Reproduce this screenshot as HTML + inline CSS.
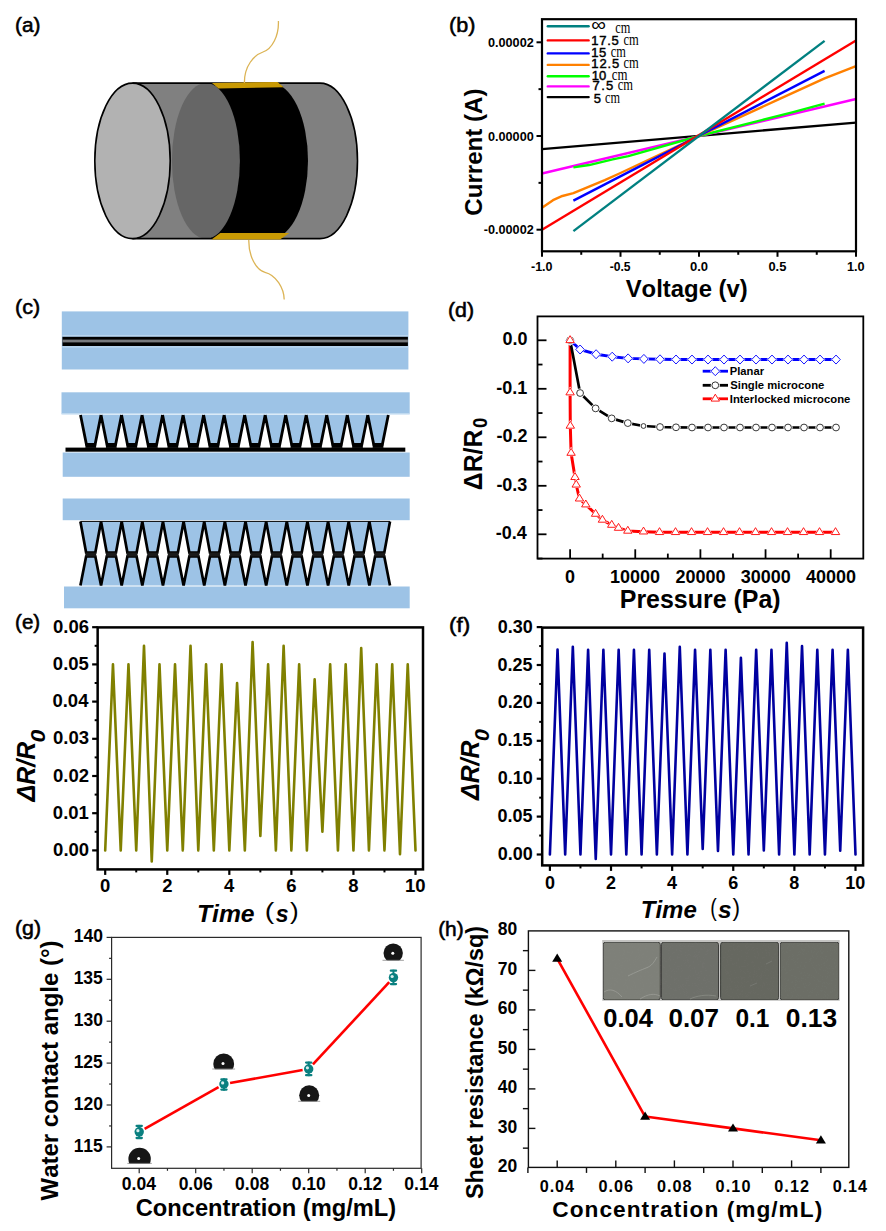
<!DOCTYPE html>
<html><head><meta charset="utf-8"><title>Figure</title>
<style>html,body{margin:0;padding:0;background:#fff;overflow:hidden;} svg{display:block;} text{font-kerning:none;}</style></head>
<body><svg width="886" height="1231" viewBox="0 0 886 1231">
<rect width="886" height="1231" fill="#fff"/>
<text x="15.06" y="32.11" font-family="Liberation Sans, sans-serif" font-weight="normal" font-style="normal" font-size="20.17" fill="#000" textLength="25.49" lengthAdjust="spacingAndGlyphs" stroke="#000" stroke-width="0.55">(a)</text>
<path d="M132.5,83.1 L320,83.1 A37.5,77.75 0 0 1 320,238.6 L132.5,238.6 Z" fill="#808080"/>
<path d="M211,83.1 L271,83.1 A37,77.75 0 0 1 271,238.6 L211,238.6 Z" fill="#000"/>
<ellipse cx="205.9" cy="160.85" rx="34" ry="77.75" fill="#666666"/>
<path d="M132.5,83.1 L320,83.1 A37.5,77.75 0 0 1 320,238.6 L132.5,238.6" fill="none" stroke="#000" stroke-width="1.6"/>
<ellipse cx="132.5" cy="160.85" rx="37.7" ry="77.75" fill="#b2b2b2" stroke="#000" stroke-width="1.6"/>
<polygon points="212,83.0 277.5,82.0 283.6,87.2 218.5,88.6" fill="#c99a04"/>
<polygon points="220.3,233.0 289.4,233.0 280,239.6 211.5,239.6" fill="#c99a04"/>
<path d="M278.4,21 C279,36 272,49 263,52 C254,55 244.2,66 244.4,83" fill="none" stroke="#dcb456" stroke-width="1.3"/>
<path d="M248.8,240 C248.5,256 256,270 265,272.3 C276,275 284,288 284.2,299.5" fill="none" stroke="#dcb456" stroke-width="1.3"/>
<text x="449.11" y="32.28" font-family="Liberation Sans, sans-serif" font-weight="normal" font-style="normal" font-size="20.82" fill="#000" textLength="26.38" lengthAdjust="spacingAndGlyphs" stroke="#000" stroke-width="0.55">(b)</text>
<line x1="542.00" y1="149.12" x2="856.00" y2="122.60" stroke="#000000" stroke-width="2.4" />
<line x1="542.00" y1="173.48" x2="856.00" y2="98.99" stroke="#ff00ff" stroke-width="2.4" />
<polyline points="573.40,167.39 589.10,165.05 612.65,159.43 628.35,156.15 699.00,136.00 761.80,120.07 793.20,112.11 824.60,103.67" fill="none" stroke="#00ff00" stroke-width="2.4" stroke-linejoin="round" />
<polyline points="542.00,207.68 552.99,200.18 562.41,195.97 573.40,193.16 589.10,186.60 604.80,180.04 620.50,173.01 699.00,136.00 777.50,99.93 824.60,78.37 856.00,66.19" fill="none" stroke="#ff8000" stroke-width="2.4" stroke-linejoin="round" />
<line x1="573.40" y1="200.65" x2="824.60" y2="70.88" stroke="#0000ff" stroke-width="2.4" />
<line x1="542.00" y1="229.70" x2="856.00" y2="40.43" stroke="#ff0000" stroke-width="2.4" />
<line x1="573.40" y1="231.11" x2="824.60" y2="40.89" stroke="#008080" stroke-width="2.4" />
<rect x="542.0" y="19.2" width="314.0" height="232.10000000000002" fill="none" stroke="#000" stroke-width="2.2"/>
<line x1="542.00" y1="251.30" x2="542.00" y2="256.80" stroke="#000" stroke-width="2" />
<text x="530.96" y="271.30" font-family="Liberation Sans, sans-serif" font-weight="bold" font-style="normal" font-size="12.5" fill="#000" textLength="21.60" lengthAdjust="spacingAndGlyphs" >-1.0</text>
<line x1="620.50" y1="251.30" x2="620.50" y2="256.80" stroke="#000" stroke-width="2" />
<text x="609.68" y="271.30" font-family="Liberation Sans, sans-serif" font-weight="bold" font-style="normal" font-size="12.5" fill="#000" textLength="20.91" lengthAdjust="spacingAndGlyphs" >-0.5</text>
<line x1="699.00" y1="251.30" x2="699.00" y2="256.80" stroke="#000" stroke-width="2" />
<text x="689.93" y="271.30" font-family="Liberation Sans, sans-serif" font-weight="bold" font-style="normal" font-size="12.5" fill="#000" textLength="18.15" lengthAdjust="spacingAndGlyphs" >0.0</text>
<line x1="777.50" y1="251.30" x2="777.50" y2="256.80" stroke="#000" stroke-width="2" />
<text x="768.44" y="271.30" font-family="Liberation Sans, sans-serif" font-weight="bold" font-style="normal" font-size="12.5" fill="#000" textLength="17.97" lengthAdjust="spacingAndGlyphs" >0.5</text>
<line x1="856.00" y1="251.30" x2="856.00" y2="256.80" stroke="#000" stroke-width="2" />
<text x="846.95" y="271.30" font-family="Liberation Sans, sans-serif" font-weight="bold" font-style="normal" font-size="12.5" fill="#000" textLength="17.73" lengthAdjust="spacingAndGlyphs" >1.0</text>
<line x1="581.25" y1="251.30" x2="581.25" y2="254.80" stroke="#000" stroke-width="2" />
<line x1="659.75" y1="251.30" x2="659.75" y2="254.80" stroke="#000" stroke-width="2" />
<line x1="738.25" y1="251.30" x2="738.25" y2="254.80" stroke="#000" stroke-width="2" />
<line x1="816.75" y1="251.30" x2="816.75" y2="254.80" stroke="#000" stroke-width="2" />
<line x1="536.50" y1="42.30" x2="542.00" y2="42.30" stroke="#000" stroke-width="2" />
<text x="487.95" y="46.90" font-family="Liberation Sans, sans-serif" font-weight="bold" font-style="normal" font-size="13" fill="#000" textLength="45.81" lengthAdjust="spacingAndGlyphs" >0.00002</text>
<line x1="536.50" y1="136.00" x2="542.00" y2="136.00" stroke="#000" stroke-width="2" />
<text x="487.95" y="140.60" font-family="Liberation Sans, sans-serif" font-weight="bold" font-style="normal" font-size="13" fill="#000" textLength="45.82" lengthAdjust="spacingAndGlyphs" >0.00000</text>
<line x1="536.50" y1="229.70" x2="542.00" y2="229.70" stroke="#000" stroke-width="2" />
<text x="483.76" y="234.30" font-family="Liberation Sans, sans-serif" font-weight="bold" font-style="normal" font-size="13" fill="#000" textLength="50.00" lengthAdjust="spacingAndGlyphs" >-0.00002</text>
<line x1="538.50" y1="89.15" x2="542.00" y2="89.15" stroke="#000" stroke-width="2" />
<line x1="538.50" y1="182.85" x2="542.00" y2="182.85" stroke="#000" stroke-width="2" />
<text x="625.69" y="296.70" font-family="Liberation Sans, sans-serif" font-weight="bold" font-style="normal" font-size="23.8" fill="#000" textLength="122.05" lengthAdjust="spacingAndGlyphs" >Voltage (v)</text>
<text transform="translate(482.30,215.64) rotate(-90)" x="0" y="0" font-family="Liberation Sans, sans-serif" font-weight="bold" font-style="normal" font-size="24" fill="#000" textLength="127.09" lengthAdjust="spacingAndGlyphs" >Current (A)</text>
<line x1="547.80" y1="26.30" x2="588.60" y2="26.30" stroke="#008080" stroke-width="2.4" stroke-linecap="round"/>
<line x1="547.80" y1="40.40" x2="588.60" y2="40.40" stroke="#ff0000" stroke-width="2.4" stroke-linecap="round"/>
<line x1="547.80" y1="53.40" x2="588.60" y2="53.40" stroke="#0000ff" stroke-width="2.4" stroke-linecap="round"/>
<line x1="547.80" y1="64.90" x2="588.60" y2="64.90" stroke="#ff8000" stroke-width="2.4" stroke-linecap="round"/>
<line x1="547.80" y1="76.30" x2="588.60" y2="76.30" stroke="#00ff00" stroke-width="2.4" stroke-linecap="round"/>
<line x1="547.80" y1="86.40" x2="588.60" y2="86.40" stroke="#ff00ff" stroke-width="2.4" stroke-linecap="round"/>
<line x1="547.80" y1="97.10" x2="588.60" y2="97.10" stroke="#000000" stroke-width="2.4" stroke-linecap="round"/>
<text x="591.38" y="31.00" font-family="Liberation Sans, sans-serif" font-weight="normal" font-style="normal" font-size="19" fill="#000" textLength="14.65" lengthAdjust="spacingAndGlyphs" >∞</text>
<text x="591.26" y="45.20" font-family="Liberation Sans, sans-serif" font-weight="normal" font-style="normal" font-size="13" fill="#000" letter-spacing="0.711" stroke="#000" stroke-width="0.45">17.5</text>
<text x="591.26" y="57.00" font-family="Liberation Sans, sans-serif" font-weight="normal" font-style="normal" font-size="13" fill="#000" letter-spacing="0.576" stroke="#000" stroke-width="0.45">15</text>
<text x="591.26" y="68.30" font-family="Liberation Sans, sans-serif" font-weight="normal" font-style="normal" font-size="13" fill="#000" letter-spacing="0.911" stroke="#000" stroke-width="0.45">12.5</text>
<text x="591.76" y="79.60" font-family="Liberation Sans, sans-serif" font-weight="normal" font-style="normal" font-size="13" fill="#000" letter-spacing="0.038" stroke="#000" stroke-width="0.45">10</text>
<text x="592.58" y="90.40" font-family="Liberation Sans, sans-serif" font-weight="normal" font-style="normal" font-size="13" fill="#000" letter-spacing="1.320" stroke="#000" stroke-width="0.45">7.5</text>
<text x="593.73" y="102.50" font-family="Liberation Sans, sans-serif" font-weight="normal" font-style="normal" font-size="13" fill="#000" letter-spacing="-0.264" stroke="#000" stroke-width="0.45">5</text>
<text x="615.18" y="33.00" font-family="Liberation Serif, sans-serif" font-weight="normal" font-style="normal" font-size="16.5" fill="#000" textLength="15.06" lengthAdjust="spacingAndGlyphs" >cm</text>
<text x="623.47" y="45.20" font-family="Liberation Serif, sans-serif" font-weight="normal" font-style="normal" font-size="16.5" fill="#000" textLength="15.27" lengthAdjust="spacingAndGlyphs" >cm</text>
<text x="610.68" y="57.00" font-family="Liberation Serif, sans-serif" font-weight="normal" font-style="normal" font-size="16.5" fill="#000" textLength="15.06" lengthAdjust="spacingAndGlyphs" >cm</text>
<text x="623.47" y="68.30" font-family="Liberation Serif, sans-serif" font-weight="normal" font-style="normal" font-size="16.5" fill="#000" textLength="15.27" lengthAdjust="spacingAndGlyphs" >cm</text>
<text x="611.76" y="79.60" font-family="Liberation Serif, sans-serif" font-weight="normal" font-style="normal" font-size="16.5" fill="#000" textLength="15.69" lengthAdjust="spacingAndGlyphs" >cm</text>
<text x="617.67" y="90.40" font-family="Liberation Serif, sans-serif" font-weight="normal" font-style="normal" font-size="16.5" fill="#000" textLength="15.27" lengthAdjust="spacingAndGlyphs" >cm</text>
<text x="604.98" y="102.50" font-family="Liberation Serif, sans-serif" font-weight="normal" font-style="normal" font-size="16.5" fill="#000" textLength="14.96" lengthAdjust="spacingAndGlyphs" >cm</text>
<text x="15.01" y="313.95" font-family="Liberation Sans, sans-serif" font-weight="normal" font-style="normal" font-size="20.49" fill="#000" textLength="25.18" lengthAdjust="spacingAndGlyphs" stroke="#000" stroke-width="0.55">(c)</text>
<rect x="61.8" y="311.4" width="346.6" height="58.1" fill="#9dc3e6"/>
<rect x="62.4" y="336.7" width="345.5" height="9.3" fill="#000"/>
<rect x="62.4" y="339.6" width="345.5" height="2.8" fill="#77797d"/>
<rect x="62.4" y="335.3" width="345.5" height="1.1" fill="#c4dcf2"/>
<rect x="62.4" y="346.4" width="345.5" height="1.1" fill="#c4dcf2"/>
<rect x="61.5" y="392.3" width="348.2" height="21.5" fill="#9dc3e6"/>
<rect x="61.5" y="413.2" width="348.2" height="1.4" fill="#c4dcf2"/>
<path d="M80.50,415.0 L86.40,444.3 L95.12,444.3 L101.02,415.0 Z M101.02,415.0 L106.92,444.3 L115.64,444.3 L121.54,415.0 Z M121.54,415.0 L127.44,444.3 L136.16,444.3 L142.06,415.0 Z M142.06,415.0 L147.96,444.3 L156.68,444.3 L162.58,415.0 Z M162.58,415.0 L168.48,444.3 L177.20,444.3 L183.10,415.0 Z M183.10,415.0 L189.00,444.3 L197.72,444.3 L203.62,415.0 Z M203.62,415.0 L209.52,444.3 L218.24,444.3 L224.14,415.0 Z M224.14,415.0 L230.04,444.3 L238.76,444.3 L244.66,415.0 Z M244.66,415.0 L250.56,444.3 L259.28,444.3 L265.18,415.0 Z M265.18,415.0 L271.08,444.3 L279.80,444.3 L285.70,415.0 Z M285.70,415.0 L291.60,444.3 L300.32,444.3 L306.22,415.0 Z M306.22,415.0 L312.12,444.3 L320.84,444.3 L326.74,415.0 Z M326.74,415.0 L332.64,444.3 L341.36,444.3 L347.26,415.0 Z M347.26,415.0 L353.16,444.3 L361.88,444.3 L367.78,415.0 Z M367.78,415.0 L373.68,444.3 L382.40,444.3 L388.30,415.0 Z" fill="#9dc3e6"/>
<path d="M80.50,415.0 L86.40,444.3 L95.12,444.3 L101.02,415.0 M101.02,415.0 L106.92,444.3 L115.64,444.3 L121.54,415.0 M121.54,415.0 L127.44,444.3 L136.16,444.3 L142.06,415.0 M142.06,415.0 L147.96,444.3 L156.68,444.3 L162.58,415.0 M162.58,415.0 L168.48,444.3 L177.20,444.3 L183.10,415.0 M183.10,415.0 L189.00,444.3 L197.72,444.3 L203.62,415.0 M203.62,415.0 L209.52,444.3 L218.24,444.3 L224.14,415.0 M224.14,415.0 L230.04,444.3 L238.76,444.3 L244.66,415.0 M244.66,415.0 L250.56,444.3 L259.28,444.3 L265.18,415.0 M265.18,415.0 L271.08,444.3 L279.80,444.3 L285.70,415.0 M285.70,415.0 L291.60,444.3 L300.32,444.3 L306.22,415.0 M306.22,415.0 L312.12,444.3 L320.84,444.3 L326.74,415.0 M326.74,415.0 L332.64,444.3 L341.36,444.3 L347.26,415.0 M347.26,415.0 L353.16,444.3 L361.88,444.3 L367.78,415.0 M367.78,415.0 L373.68,444.3 L382.40,444.3 L388.30,415.0" fill="none" stroke="#000" stroke-width="2.8" stroke-linejoin="miter" stroke-miterlimit="10"/>
<rect x="85.40" y="444.3" width="10.72" height="3.6" fill="#000"/>
<rect x="105.92" y="444.3" width="10.72" height="3.6" fill="#000"/>
<rect x="126.44" y="444.3" width="10.72" height="3.6" fill="#000"/>
<rect x="146.96" y="444.3" width="10.72" height="3.6" fill="#000"/>
<rect x="167.48" y="444.3" width="10.72" height="3.6" fill="#000"/>
<rect x="188.00" y="444.3" width="10.72" height="3.6" fill="#000"/>
<rect x="208.52" y="444.3" width="10.72" height="3.6" fill="#000"/>
<rect x="229.04" y="444.3" width="10.72" height="3.6" fill="#000"/>
<rect x="249.56" y="444.3" width="10.72" height="3.6" fill="#000"/>
<rect x="270.08" y="444.3" width="10.72" height="3.6" fill="#000"/>
<rect x="290.60" y="444.3" width="10.72" height="3.6" fill="#000"/>
<rect x="311.12" y="444.3" width="10.72" height="3.6" fill="#000"/>
<rect x="331.64" y="444.3" width="10.72" height="3.6" fill="#000"/>
<rect x="352.16" y="444.3" width="10.72" height="3.6" fill="#000"/>
<rect x="372.68" y="444.3" width="10.72" height="3.6" fill="#000"/>
<rect x="65.5" y="447.6" width="339.8" height="4.1" fill="#000"/>
<rect x="62.7" y="452.5" width="347" height="24.3" fill="#9dc3e6"/>
<rect x="62.7" y="498.5" width="347" height="21.7" fill="#9dc3e6"/>
<path d="M80.40,521.6 L86.10,552.5 L95.34,552.5 L101.04,521.6 Z M101.04,521.6 L106.74,552.5 L115.98,552.5 L121.68,521.6 Z M121.68,521.6 L127.38,552.5 L136.62,552.5 L142.32,521.6 Z M142.32,521.6 L148.02,552.5 L157.26,552.5 L162.96,521.6 Z M162.96,521.6 L168.66,552.5 L177.90,552.5 L183.60,521.6 Z M183.60,521.6 L189.30,552.5 L198.54,552.5 L204.24,521.6 Z M204.24,521.6 L209.94,552.5 L219.18,552.5 L224.88,521.6 Z M224.88,521.6 L230.58,552.5 L239.82,552.5 L245.52,521.6 Z M245.52,521.6 L251.22,552.5 L260.46,552.5 L266.16,521.6 Z M266.16,521.6 L271.86,552.5 L281.10,552.5 L286.80,521.6 Z M286.80,521.6 L292.50,552.5 L301.74,552.5 L307.44,521.6 Z M307.44,521.6 L313.14,552.5 L322.38,552.5 L328.08,521.6 Z M328.08,521.6 L333.78,552.5 L343.02,552.5 L348.72,521.6 Z M348.72,521.6 L354.42,552.5 L363.66,552.5 L369.36,521.6 Z M369.36,521.6 L375.06,552.5 L384.30,552.5 L390.00,521.6 Z" fill="#9dc3e6"/>
<path d="M80.40,521.6 L86.10,552.5 L95.34,552.5 L101.04,521.6 M101.04,521.6 L106.74,552.5 L115.98,552.5 L121.68,521.6 M121.68,521.6 L127.38,552.5 L136.62,552.5 L142.32,521.6 M142.32,521.6 L148.02,552.5 L157.26,552.5 L162.96,521.6 M162.96,521.6 L168.66,552.5 L177.90,552.5 L183.60,521.6 M183.60,521.6 L189.30,552.5 L198.54,552.5 L204.24,521.6 M204.24,521.6 L209.94,552.5 L219.18,552.5 L224.88,521.6 M224.88,521.6 L230.58,552.5 L239.82,552.5 L245.52,521.6 M245.52,521.6 L251.22,552.5 L260.46,552.5 L266.16,521.6 M266.16,521.6 L271.86,552.5 L281.10,552.5 L286.80,521.6 M286.80,521.6 L292.50,552.5 L301.74,552.5 L307.44,521.6 M307.44,521.6 L313.14,552.5 L322.38,552.5 L328.08,521.6 M328.08,521.6 L333.78,552.5 L343.02,552.5 L348.72,521.6 M348.72,521.6 L354.42,552.5 L363.66,552.5 L369.36,521.6 M369.36,521.6 L375.06,552.5 L384.30,552.5 L390.00,521.6" fill="none" stroke="#000" stroke-width="2.7" stroke-linejoin="miter" stroke-miterlimit="10"/>
<path d="M80.40,585.6 L86.10,556.5 L95.34,556.5 L101.04,585.6 Z M101.04,585.6 L106.74,556.5 L115.98,556.5 L121.68,585.6 Z M121.68,585.6 L127.38,556.5 L136.62,556.5 L142.32,585.6 Z M142.32,585.6 L148.02,556.5 L157.26,556.5 L162.96,585.6 Z M162.96,585.6 L168.66,556.5 L177.90,556.5 L183.60,585.6 Z M183.60,585.6 L189.30,556.5 L198.54,556.5 L204.24,585.6 Z M204.24,585.6 L209.94,556.5 L219.18,556.5 L224.88,585.6 Z M224.88,585.6 L230.58,556.5 L239.82,556.5 L245.52,585.6 Z M245.52,585.6 L251.22,556.5 L260.46,556.5 L266.16,585.6 Z M266.16,585.6 L271.86,556.5 L281.10,556.5 L286.80,585.6 Z M286.80,585.6 L292.50,556.5 L301.74,556.5 L307.44,585.6 Z M307.44,585.6 L313.14,556.5 L322.38,556.5 L328.08,585.6 Z M328.08,585.6 L333.78,556.5 L343.02,556.5 L348.72,585.6 Z M348.72,585.6 L354.42,556.5 L363.66,556.5 L369.36,585.6 Z M369.36,585.6 L375.06,556.5 L384.30,556.5 L390.00,585.6 Z" fill="#9dc3e6"/>
<path d="M80.40,585.6 L86.10,556.5 L95.34,556.5 L101.04,585.6 M101.04,585.6 L106.74,556.5 L115.98,556.5 L121.68,585.6 M121.68,585.6 L127.38,556.5 L136.62,556.5 L142.32,585.6 M142.32,585.6 L148.02,556.5 L157.26,556.5 L162.96,585.6 M162.96,585.6 L168.66,556.5 L177.90,556.5 L183.60,585.6 M183.60,585.6 L189.30,556.5 L198.54,556.5 L204.24,585.6 M204.24,585.6 L209.94,556.5 L219.18,556.5 L224.88,585.6 M224.88,585.6 L230.58,556.5 L239.82,556.5 L245.52,585.6 M245.52,585.6 L251.22,556.5 L260.46,556.5 L266.16,585.6 M266.16,585.6 L271.86,556.5 L281.10,556.5 L286.80,585.6 M286.80,585.6 L292.50,556.5 L301.74,556.5 L307.44,585.6 M307.44,585.6 L313.14,556.5 L322.38,556.5 L328.08,585.6 M328.08,585.6 L333.78,556.5 L343.02,556.5 L348.72,585.6 M348.72,585.6 L354.42,556.5 L363.66,556.5 L369.36,585.6 M369.36,585.6 L375.06,556.5 L384.30,556.5 L390.00,585.6" fill="none" stroke="#000" stroke-width="2.7" stroke-linejoin="miter" stroke-miterlimit="10"/>
<rect x="85.30" y="552.5" width="10.84" height="4.0" fill="#1a1a1a"/>
<rect x="105.94" y="552.5" width="10.84" height="4.0" fill="#1a1a1a"/>
<rect x="126.58" y="552.5" width="10.84" height="4.0" fill="#1a1a1a"/>
<rect x="147.22" y="552.5" width="10.84" height="4.0" fill="#1a1a1a"/>
<rect x="167.86" y="552.5" width="10.84" height="4.0" fill="#1a1a1a"/>
<rect x="188.50" y="552.5" width="10.84" height="4.0" fill="#1a1a1a"/>
<rect x="209.14" y="552.5" width="10.84" height="4.0" fill="#1a1a1a"/>
<rect x="229.78" y="552.5" width="10.84" height="4.0" fill="#1a1a1a"/>
<rect x="250.42" y="552.5" width="10.84" height="4.0" fill="#1a1a1a"/>
<rect x="271.06" y="552.5" width="10.84" height="4.0" fill="#1a1a1a"/>
<rect x="291.70" y="552.5" width="10.84" height="4.0" fill="#1a1a1a"/>
<rect x="312.34" y="552.5" width="10.84" height="4.0" fill="#1a1a1a"/>
<rect x="332.98" y="552.5" width="10.84" height="4.0" fill="#1a1a1a"/>
<rect x="353.62" y="552.5" width="10.84" height="4.0" fill="#1a1a1a"/>
<rect x="374.26" y="552.5" width="10.84" height="4.0" fill="#1a1a1a"/>
<line x1="80.40" y1="521.40" x2="390.00" y2="521.40" stroke="#000" stroke-width="1.0" />
<rect x="64" y="586.5" width="345.7" height="21.8" fill="#9dc3e6"/>
<text x="448.03" y="317.41" font-family="Liberation Sans, sans-serif" font-weight="normal" font-style="normal" font-size="20.17" fill="#000" textLength="26.04" lengthAdjust="spacingAndGlyphs" stroke="#000" stroke-width="0.55">(d)</text>
<polyline points="570.10,340.30 570.10,392.58 570.30,425.90 571.08,453.01 574.99,477.22 576.22,484.78 579.48,498.70 585.80,504.62 595.57,513.98 602.41,519.90 611.73,524.99 618.51,528.00 627.82,530.90 643.52,531.68 659.52,532.26 675.53,532.26 691.53,532.26 707.53,532.26 723.53,532.26 739.53,532.26 755.53,532.26 771.53,532.26 787.53,532.26 803.53,532.26 819.53,532.26 835.53,532.26" fill="none" stroke="#ff0000" stroke-width="3.0" stroke-linejoin="round" />
<polyline points="570.10,340.30 580.10,393.02 595.60,408.39 611.70,418.38 627.80,423.09 643.50,426.00 660.01,427.02 676.00,427.31 692.00,427.50 708.00,427.50 724.00,427.50 740.00,427.50 756.01,427.50 772.01,427.50 788.01,427.50 804.01,427.50 820.01,427.50 836.01,427.50" fill="none" stroke="#000" stroke-width="2.7" stroke-linejoin="round" />
<polyline points="570.10,340.30 580.10,349.51 596.10,354.22 612.20,356.69 628.10,358.39 643.90,358.92 660.00,359.31 676.00,359.51 692.00,359.55 708.00,359.55 724.00,359.55 740.00,359.55 756.01,359.55 772.01,359.55 788.01,359.55 804.01,359.55 820.01,359.55 836.01,359.55" fill="none" stroke="#0000ff" stroke-width="2.9" stroke-linejoin="round" />
<path d="M570.10,334.70 L575.50,340.30 L570.10,345.90 L564.70,340.30 Z" fill="#fff"/>
<path d="M570.10,335.80 L574.40,340.30 L570.10,344.80 L565.80,340.30 Z" fill="#fff" stroke="#0000ff" stroke-width="0.9"/>
<path d="M580.10,343.91 L585.50,349.51 L580.10,355.12 L574.70,349.51 Z" fill="#fff"/>
<path d="M580.10,345.01 L584.40,349.51 L580.10,354.01 L575.80,349.51 Z" fill="#fff" stroke="#0000ff" stroke-width="0.9"/>
<path d="M596.10,348.62 L601.50,354.22 L596.10,359.82 L590.70,354.22 Z" fill="#fff"/>
<path d="M596.10,349.72 L600.40,354.22 L596.10,358.72 L591.80,354.22 Z" fill="#fff" stroke="#0000ff" stroke-width="0.9"/>
<path d="M612.20,351.09 L617.60,356.69 L612.20,362.29 L606.80,356.69 Z" fill="#fff"/>
<path d="M612.20,352.19 L616.50,356.69 L612.20,361.19 L607.90,356.69 Z" fill="#fff" stroke="#0000ff" stroke-width="0.9"/>
<path d="M628.10,352.79 L633.50,358.39 L628.10,363.99 L622.70,358.39 Z" fill="#fff"/>
<path d="M628.10,353.89 L632.40,358.39 L628.10,362.89 L623.80,358.39 Z" fill="#fff" stroke="#0000ff" stroke-width="0.9"/>
<path d="M643.90,353.32 L649.30,358.92 L643.90,364.52 L638.50,358.92 Z" fill="#fff"/>
<path d="M643.90,354.42 L648.20,358.92 L643.90,363.42 L639.60,358.92 Z" fill="#fff" stroke="#0000ff" stroke-width="0.9"/>
<path d="M660.00,353.71 L665.40,359.31 L660.00,364.91 L654.60,359.31 Z" fill="#fff"/>
<path d="M660.00,354.81 L664.30,359.31 L660.00,363.81 L655.70,359.31 Z" fill="#fff" stroke="#0000ff" stroke-width="0.9"/>
<path d="M676.00,353.91 L681.40,359.51 L676.00,365.11 L670.60,359.51 Z" fill="#fff"/>
<path d="M676.00,355.01 L680.30,359.51 L676.00,364.01 L671.70,359.51 Z" fill="#fff" stroke="#0000ff" stroke-width="0.9"/>
<path d="M692.00,353.95 L697.40,359.55 L692.00,365.15 L686.60,359.55 Z" fill="#fff"/>
<path d="M692.00,355.05 L696.30,359.55 L692.00,364.05 L687.70,359.55 Z" fill="#fff" stroke="#0000ff" stroke-width="0.9"/>
<path d="M708.00,353.95 L713.40,359.55 L708.00,365.15 L702.60,359.55 Z" fill="#fff"/>
<path d="M708.00,355.05 L712.30,359.55 L708.00,364.05 L703.70,359.55 Z" fill="#fff" stroke="#0000ff" stroke-width="0.9"/>
<path d="M724.00,353.95 L729.40,359.55 L724.00,365.15 L718.60,359.55 Z" fill="#fff"/>
<path d="M724.00,355.05 L728.30,359.55 L724.00,364.05 L719.70,359.55 Z" fill="#fff" stroke="#0000ff" stroke-width="0.9"/>
<path d="M740.00,353.95 L745.40,359.55 L740.00,365.15 L734.60,359.55 Z" fill="#fff"/>
<path d="M740.00,355.05 L744.30,359.55 L740.00,364.05 L735.70,359.55 Z" fill="#fff" stroke="#0000ff" stroke-width="0.9"/>
<path d="M756.01,353.95 L761.41,359.55 L756.01,365.15 L750.61,359.55 Z" fill="#fff"/>
<path d="M756.01,355.05 L760.31,359.55 L756.01,364.05 L751.71,359.55 Z" fill="#fff" stroke="#0000ff" stroke-width="0.9"/>
<path d="M772.01,353.95 L777.41,359.55 L772.01,365.15 L766.61,359.55 Z" fill="#fff"/>
<path d="M772.01,355.05 L776.31,359.55 L772.01,364.05 L767.71,359.55 Z" fill="#fff" stroke="#0000ff" stroke-width="0.9"/>
<path d="M788.01,353.95 L793.41,359.55 L788.01,365.15 L782.61,359.55 Z" fill="#fff"/>
<path d="M788.01,355.05 L792.31,359.55 L788.01,364.05 L783.71,359.55 Z" fill="#fff" stroke="#0000ff" stroke-width="0.9"/>
<path d="M804.01,353.95 L809.41,359.55 L804.01,365.15 L798.61,359.55 Z" fill="#fff"/>
<path d="M804.01,355.05 L808.31,359.55 L804.01,364.05 L799.71,359.55 Z" fill="#fff" stroke="#0000ff" stroke-width="0.9"/>
<path d="M820.01,353.95 L825.41,359.55 L820.01,365.15 L814.61,359.55 Z" fill="#fff"/>
<path d="M820.01,355.05 L824.31,359.55 L820.01,364.05 L815.71,359.55 Z" fill="#fff" stroke="#0000ff" stroke-width="0.9"/>
<path d="M836.01,353.95 L841.41,359.55 L836.01,365.15 L830.61,359.55 Z" fill="#fff"/>
<path d="M836.01,355.05 L840.31,359.55 L836.01,364.05 L831.71,359.55 Z" fill="#fff" stroke="#0000ff" stroke-width="0.9"/>
<circle cx="570.10" cy="340.30" r="4.6" fill="#fff"/>
<circle cx="570.10" cy="340.30" r="3.4" fill="#fff" stroke="#222" stroke-width="0.9"/>
<circle cx="580.10" cy="393.02" r="4.6" fill="#fff"/>
<circle cx="580.10" cy="393.02" r="3.4" fill="#fff" stroke="#222" stroke-width="0.9"/>
<circle cx="595.60" cy="408.39" r="4.6" fill="#fff"/>
<circle cx="595.60" cy="408.39" r="3.4" fill="#fff" stroke="#222" stroke-width="0.9"/>
<circle cx="611.70" cy="418.38" r="4.6" fill="#fff"/>
<circle cx="611.70" cy="418.38" r="3.4" fill="#fff" stroke="#222" stroke-width="0.9"/>
<circle cx="627.80" cy="423.09" r="4.6" fill="#fff"/>
<circle cx="627.80" cy="423.09" r="3.4" fill="#fff" stroke="#222" stroke-width="0.9"/>
<circle cx="643.50" cy="426.00" r="3.5999999999999996" fill="#fff"/>
<circle cx="643.50" cy="426.00" r="2.4" fill="#fff" stroke="#222" stroke-width="0.9"/>
<circle cx="660.01" cy="427.02" r="4.6" fill="#fff"/>
<circle cx="660.01" cy="427.02" r="3.4" fill="#fff" stroke="#222" stroke-width="0.9"/>
<circle cx="676.00" cy="427.31" r="4.6" fill="#fff"/>
<circle cx="676.00" cy="427.31" r="3.4" fill="#fff" stroke="#222" stroke-width="0.9"/>
<circle cx="692.00" cy="427.50" r="4.6" fill="#fff"/>
<circle cx="692.00" cy="427.50" r="3.4" fill="#fff" stroke="#222" stroke-width="0.9"/>
<circle cx="708.00" cy="427.50" r="4.6" fill="#fff"/>
<circle cx="708.00" cy="427.50" r="3.4" fill="#fff" stroke="#222" stroke-width="0.9"/>
<circle cx="724.00" cy="427.50" r="4.6" fill="#fff"/>
<circle cx="724.00" cy="427.50" r="3.4" fill="#fff" stroke="#222" stroke-width="0.9"/>
<circle cx="740.00" cy="427.50" r="4.6" fill="#fff"/>
<circle cx="740.00" cy="427.50" r="3.4" fill="#fff" stroke="#222" stroke-width="0.9"/>
<circle cx="756.01" cy="427.50" r="4.6" fill="#fff"/>
<circle cx="756.01" cy="427.50" r="3.4" fill="#fff" stroke="#222" stroke-width="0.9"/>
<circle cx="772.01" cy="427.50" r="4.6" fill="#fff"/>
<circle cx="772.01" cy="427.50" r="3.4" fill="#fff" stroke="#222" stroke-width="0.9"/>
<circle cx="788.01" cy="427.50" r="4.6" fill="#fff"/>
<circle cx="788.01" cy="427.50" r="3.4" fill="#fff" stroke="#222" stroke-width="0.9"/>
<circle cx="804.01" cy="427.50" r="4.6" fill="#fff"/>
<circle cx="804.01" cy="427.50" r="3.4" fill="#fff" stroke="#222" stroke-width="0.9"/>
<circle cx="820.01" cy="427.50" r="4.6" fill="#fff"/>
<circle cx="820.01" cy="427.50" r="3.4" fill="#fff" stroke="#222" stroke-width="0.9"/>
<circle cx="836.01" cy="427.50" r="4.6" fill="#fff"/>
<circle cx="836.01" cy="427.50" r="3.4" fill="#fff" stroke="#222" stroke-width="0.9"/>
<path d="M570.10,334.10 L575.70,343.50 L564.50,343.50 Z" fill="#fff"/>
<path d="M570.10,335.70 L574.30,342.60 L565.90,342.60 Z" fill="#fff" stroke="#ff0000" stroke-width="0.9"/>
<path d="M570.10,386.38 L575.70,395.78 L564.50,395.78 Z" fill="#fff"/>
<path d="M570.10,387.98 L574.30,394.88 L565.90,394.88 Z" fill="#fff" stroke="#ff0000" stroke-width="0.9"/>
<path d="M570.30,419.70 L575.90,429.10 L564.70,429.10 Z" fill="#fff"/>
<path d="M570.30,421.30 L574.50,428.20 L566.10,428.20 Z" fill="#fff" stroke="#ff0000" stroke-width="0.9"/>
<path d="M571.08,446.81 L576.68,456.21 L565.48,456.21 Z" fill="#fff"/>
<path d="M571.08,448.41 L575.28,455.31 L566.88,455.31 Z" fill="#fff" stroke="#ff0000" stroke-width="0.9"/>
<path d="M574.99,471.02 L580.59,480.42 L569.39,480.42 Z" fill="#fff"/>
<path d="M574.99,472.62 L579.19,479.52 L570.79,479.52 Z" fill="#fff" stroke="#ff0000" stroke-width="0.9"/>
<path d="M576.22,478.58 L581.82,487.98 L570.62,487.98 Z" fill="#fff"/>
<path d="M576.22,480.18 L580.42,487.08 L572.02,487.08 Z" fill="#fff" stroke="#ff0000" stroke-width="0.9"/>
<path d="M579.48,492.50 L585.08,501.90 L573.88,501.90 Z" fill="#fff"/>
<path d="M579.48,494.10 L583.68,501.00 L575.28,501.00 Z" fill="#fff" stroke="#ff0000" stroke-width="0.9"/>
<path d="M585.80,498.42 L591.40,507.82 L580.20,507.82 Z" fill="#fff"/>
<path d="M585.80,500.02 L590.00,506.92 L581.60,506.92 Z" fill="#fff" stroke="#ff0000" stroke-width="0.9"/>
<path d="M595.57,507.78 L601.17,517.18 L589.97,517.18 Z" fill="#fff"/>
<path d="M595.57,509.38 L599.77,516.28 L591.37,516.28 Z" fill="#fff" stroke="#ff0000" stroke-width="0.9"/>
<path d="M602.41,513.70 L608.01,523.10 L596.81,523.10 Z" fill="#fff"/>
<path d="M602.41,515.30 L606.61,522.20 L598.21,522.20 Z" fill="#fff" stroke="#ff0000" stroke-width="0.9"/>
<path d="M611.73,518.79 L617.33,528.19 L606.13,528.19 Z" fill="#fff"/>
<path d="M611.73,520.39 L615.93,527.29 L607.53,527.29 Z" fill="#fff" stroke="#ff0000" stroke-width="0.9"/>
<path d="M618.51,521.79 L624.11,531.20 L612.91,531.20 Z" fill="#fff"/>
<path d="M618.51,523.39 L622.71,530.29 L614.31,530.29 Z" fill="#fff" stroke="#ff0000" stroke-width="0.9"/>
<path d="M627.82,524.70 L633.42,534.11 L622.22,534.11 Z" fill="#fff"/>
<path d="M627.82,526.30 L632.02,533.20 L623.62,533.20 Z" fill="#fff" stroke="#ff0000" stroke-width="0.9"/>
<path d="M643.52,525.48 L649.12,534.88 L637.92,534.88 Z" fill="#fff"/>
<path d="M643.52,527.08 L647.72,533.98 L639.32,533.98 Z" fill="#fff" stroke="#ff0000" stroke-width="0.9"/>
<path d="M659.52,526.06 L665.12,535.46 L653.92,535.46 Z" fill="#fff"/>
<path d="M659.52,527.66 L663.72,534.56 L655.32,534.56 Z" fill="#fff" stroke="#ff0000" stroke-width="0.9"/>
<path d="M675.53,526.06 L681.13,535.46 L669.93,535.46 Z" fill="#fff"/>
<path d="M675.53,527.66 L679.73,534.56 L671.33,534.56 Z" fill="#fff" stroke="#ff0000" stroke-width="0.9"/>
<path d="M691.53,526.06 L697.13,535.46 L685.93,535.46 Z" fill="#fff"/>
<path d="M691.53,527.66 L695.73,534.56 L687.33,534.56 Z" fill="#fff" stroke="#ff0000" stroke-width="0.9"/>
<path d="M707.53,526.06 L713.13,535.46 L701.93,535.46 Z" fill="#fff"/>
<path d="M707.53,527.66 L711.73,534.56 L703.33,534.56 Z" fill="#fff" stroke="#ff0000" stroke-width="0.9"/>
<path d="M723.53,526.06 L729.13,535.46 L717.93,535.46 Z" fill="#fff"/>
<path d="M723.53,527.66 L727.73,534.56 L719.33,534.56 Z" fill="#fff" stroke="#ff0000" stroke-width="0.9"/>
<path d="M739.53,526.06 L745.13,535.46 L733.93,535.46 Z" fill="#fff"/>
<path d="M739.53,527.66 L743.73,534.56 L735.33,534.56 Z" fill="#fff" stroke="#ff0000" stroke-width="0.9"/>
<path d="M755.53,526.06 L761.13,535.46 L749.93,535.46 Z" fill="#fff"/>
<path d="M755.53,527.66 L759.73,534.56 L751.33,534.56 Z" fill="#fff" stroke="#ff0000" stroke-width="0.9"/>
<path d="M771.53,526.06 L777.13,535.46 L765.93,535.46 Z" fill="#fff"/>
<path d="M771.53,527.66 L775.73,534.56 L767.33,534.56 Z" fill="#fff" stroke="#ff0000" stroke-width="0.9"/>
<path d="M787.53,526.06 L793.13,535.46 L781.93,535.46 Z" fill="#fff"/>
<path d="M787.53,527.66 L791.73,534.56 L783.33,534.56 Z" fill="#fff" stroke="#ff0000" stroke-width="0.9"/>
<path d="M803.53,526.06 L809.13,535.46 L797.93,535.46 Z" fill="#fff"/>
<path d="M803.53,527.66 L807.73,534.56 L799.33,534.56 Z" fill="#fff" stroke="#ff0000" stroke-width="0.9"/>
<path d="M819.53,526.06 L825.13,535.46 L813.93,535.46 Z" fill="#fff"/>
<path d="M819.53,527.66 L823.73,534.56 L815.33,534.56 Z" fill="#fff" stroke="#ff0000" stroke-width="0.9"/>
<path d="M835.53,526.06 L841.13,535.46 L829.93,535.46 Z" fill="#fff"/>
<path d="M835.53,527.66 L839.73,534.56 L831.33,534.56 Z" fill="#fff" stroke="#ff0000" stroke-width="0.9"/>
<rect x="537.5" y="316.4" width="325.79999999999995" height="242.20000000000005" fill="none" stroke="#000" stroke-width="1.8"/>
<line x1="537.50" y1="340.30" x2="546.50" y2="340.30" stroke="#000" stroke-width="1.8" />
<text x="502.47" y="345.00" font-family="Liberation Sans, sans-serif" font-weight="bold" font-style="normal" font-size="18" fill="#000" textLength="25.02" lengthAdjust="spacingAndGlyphs" >0.0</text>
<line x1="537.50" y1="388.80" x2="546.50" y2="388.80" stroke="#000" stroke-width="1.8" />
<text x="496.23" y="393.50" font-family="Liberation Sans, sans-serif" font-weight="bold" font-style="normal" font-size="18" fill="#000" textLength="31.02" lengthAdjust="spacingAndGlyphs" >-0.1</text>
<line x1="537.50" y1="437.30" x2="546.50" y2="437.30" stroke="#000" stroke-width="1.8" />
<text x="496.45" y="442.00" font-family="Liberation Sans, sans-serif" font-weight="bold" font-style="normal" font-size="18" fill="#000" textLength="31.02" lengthAdjust="spacingAndGlyphs" >-0.2</text>
<line x1="537.50" y1="485.80" x2="546.50" y2="485.80" stroke="#000" stroke-width="1.8" />
<text x="496.38" y="490.50" font-family="Liberation Sans, sans-serif" font-weight="bold" font-style="normal" font-size="18" fill="#000" textLength="31.02" lengthAdjust="spacingAndGlyphs" >-0.3</text>
<line x1="537.50" y1="534.30" x2="546.50" y2="534.30" stroke="#000" stroke-width="1.8" />
<text x="495.83" y="539.00" font-family="Liberation Sans, sans-serif" font-weight="bold" font-style="normal" font-size="18" fill="#000" textLength="31.02" lengthAdjust="spacingAndGlyphs" >-0.4</text>
<line x1="537.50" y1="364.55" x2="542.50" y2="364.55" stroke="#000" stroke-width="1.8" />
<line x1="537.50" y1="413.05" x2="542.50" y2="413.05" stroke="#000" stroke-width="1.8" />
<line x1="537.50" y1="461.55" x2="542.50" y2="461.55" stroke="#000" stroke-width="1.8" />
<line x1="537.50" y1="510.05" x2="542.50" y2="510.05" stroke="#000" stroke-width="1.8" />
<line x1="537.50" y1="558.55" x2="542.50" y2="558.55" stroke="#000" stroke-width="1.8" />
<line x1="570.10" y1="558.60" x2="570.10" y2="549.30" stroke="#000" stroke-width="1.8" />
<text x="565.11" y="582.70" font-family="Liberation Sans, sans-serif" font-weight="bold" font-style="normal" font-size="18" fill="#000" textLength="10.01" lengthAdjust="spacingAndGlyphs" >0</text>
<line x1="635.25" y1="558.60" x2="635.25" y2="549.30" stroke="#000" stroke-width="1.8" />
<text x="610.03" y="582.70" font-family="Liberation Sans, sans-serif" font-weight="bold" font-style="normal" font-size="18" fill="#000" textLength="50.05" lengthAdjust="spacingAndGlyphs" >10000</text>
<line x1="700.40" y1="558.60" x2="700.40" y2="549.30" stroke="#000" stroke-width="1.8" />
<text x="675.43" y="582.70" font-family="Liberation Sans, sans-serif" font-weight="bold" font-style="normal" font-size="18" fill="#000" textLength="50.05" lengthAdjust="spacingAndGlyphs" >20000</text>
<line x1="765.55" y1="558.60" x2="765.55" y2="549.30" stroke="#000" stroke-width="1.8" />
<text x="740.69" y="582.70" font-family="Liberation Sans, sans-serif" font-weight="bold" font-style="normal" font-size="18" fill="#000" textLength="50.05" lengthAdjust="spacingAndGlyphs" >30000</text>
<line x1="830.70" y1="558.60" x2="830.70" y2="549.30" stroke="#000" stroke-width="1.8" />
<text x="805.91" y="582.70" font-family="Liberation Sans, sans-serif" font-weight="bold" font-style="normal" font-size="18" fill="#000" textLength="50.05" lengthAdjust="spacingAndGlyphs" >40000</text>
<line x1="602.68" y1="558.60" x2="602.68" y2="553.60" stroke="#000" stroke-width="1.8" />
<line x1="667.83" y1="558.60" x2="667.83" y2="553.60" stroke="#000" stroke-width="1.8" />
<line x1="732.98" y1="558.60" x2="732.98" y2="553.60" stroke="#000" stroke-width="1.8" />
<line x1="798.12" y1="558.60" x2="798.12" y2="553.60" stroke="#000" stroke-width="1.8" />
<text x="619.78" y="608.20" font-family="Liberation Sans, sans-serif" font-weight="bold" font-style="normal" font-size="25" fill="#000" textLength="160.81" lengthAdjust="spacingAndGlyphs" >Pressure (Pa)</text>
<text transform="translate(481.90,490.15) rotate(-90)" x="0" y="0" font-family="Liberation Sans, sans-serif" font-weight="bold" font-style="normal" font-size="25" fill="#000" textLength="60.41" lengthAdjust="spacingAndGlyphs" >ΔR/R</text>
<text transform="translate(486.60,428.08) rotate(-90)" x="0" y="0" font-family="Liberation Sans, sans-serif" font-weight="bold" font-style="normal" font-size="20" fill="#000" textLength="10.29" lengthAdjust="spacingAndGlyphs" >0</text>
<line x1="702.70" y1="371.20" x2="728.00" y2="371.20" stroke="#0000ff" stroke-width="2.8" />
<path d="M715.30,365.60 L720.70,371.20 L715.30,376.80 L709.90,371.20 Z" fill="#fff"/>
<path d="M715.30,366.70 L719.60,371.20 L715.30,375.70 L711.00,371.20 Z" fill="#fff" stroke="#0000ff" stroke-width="0.9"/>
<text x="729.80" y="375.10" font-family="Liberation Sans, sans-serif" font-weight="bold" font-style="normal" font-size="11.2" fill="#000" textLength="34.22" lengthAdjust="spacingAndGlyphs" >Planar</text>
<line x1="702.70" y1="385.30" x2="728.00" y2="385.30" stroke="#000" stroke-width="2.8" />
<circle cx="715.30" cy="385.30" r="4.6" fill="#fff"/>
<circle cx="715.30" cy="385.30" r="3.4" fill="#fff" stroke="#222" stroke-width="0.9"/>
<text x="730.22" y="389.20" font-family="Liberation Sans, sans-serif" font-weight="bold" font-style="normal" font-size="11.2" fill="#000" textLength="94.11" lengthAdjust="spacingAndGlyphs" >Single microcone</text>
<line x1="702.70" y1="398.80" x2="728.00" y2="398.80" stroke="#ff0000" stroke-width="2.8" />
<path d="M715.30,392.60 L720.90,402.00 L709.70,402.00 Z" fill="#fff"/>
<path d="M715.30,394.20 L719.50,401.10 L711.10,401.10 Z" fill="#fff" stroke="#ff0000" stroke-width="0.9"/>
<text x="729.79" y="402.70" font-family="Liberation Sans, sans-serif" font-weight="bold" font-style="normal" font-size="11.2" fill="#000" textLength="120.54" lengthAdjust="spacingAndGlyphs" >Interlocked microcone</text>
<text x="15.08" y="629.46" font-family="Liberation Sans, sans-serif" font-weight="normal" font-style="normal" font-size="19.96" fill="#000" textLength="25.04" lengthAdjust="spacingAndGlyphs" stroke="#000" stroke-width="0.55">(e)</text>
<polyline points="105.20,850.40 112.96,664.40 120.72,850.40 128.47,664.40 136.23,850.40 143.99,645.80 151.75,861.56 159.50,664.40 167.26,850.40 175.02,664.40 182.78,850.40 190.53,645.80 198.29,850.40 206.05,664.40 213.81,850.40 221.56,664.40 229.32,850.40 237.08,683.00 244.83,850.40 252.59,642.08 260.35,835.89 268.11,664.40 275.87,850.40 283.62,645.80 291.38,850.40 299.14,664.40 306.89,850.40 314.65,679.28 322.41,831.80 330.17,664.40 337.93,850.40 345.68,664.40 353.44,850.40 361.20,648.03 368.95,850.40 376.71,664.40 384.47,850.40 392.23,664.40 399.99,854.12 407.74,664.40 415.50,850.40" fill="none" stroke="#808000" stroke-width="2.6" stroke-linejoin="round" stroke-linecap="round"/>
<rect x="97.65" y="627.4" width="325.35" height="242.0" fill="none" stroke="#000" stroke-width="2.5"/>
<line x1="92.15" y1="850.40" x2="97.65" y2="850.40" stroke="#000" stroke-width="2.2" />
<text x="53.10" y="856.00" font-family="Liberation Sans, sans-serif" font-weight="bold" font-style="normal" font-size="18.5" fill="#000" textLength="36.01" lengthAdjust="spacingAndGlyphs" >0.00</text>
<line x1="92.15" y1="813.20" x2="97.65" y2="813.20" stroke="#000" stroke-width="2.2" />
<text x="52.86" y="818.80" font-family="Liberation Sans, sans-serif" font-weight="bold" font-style="normal" font-size="18.5" fill="#000" textLength="36.01" lengthAdjust="spacingAndGlyphs" >0.01</text>
<line x1="92.15" y1="776.00" x2="97.65" y2="776.00" stroke="#000" stroke-width="2.2" />
<text x="53.08" y="781.60" font-family="Liberation Sans, sans-serif" font-weight="bold" font-style="normal" font-size="18.5" fill="#000" textLength="36.01" lengthAdjust="spacingAndGlyphs" >0.02</text>
<line x1="92.15" y1="738.80" x2="97.65" y2="738.80" stroke="#000" stroke-width="2.2" />
<text x="53.01" y="744.40" font-family="Liberation Sans, sans-serif" font-weight="bold" font-style="normal" font-size="18.5" fill="#000" textLength="36.01" lengthAdjust="spacingAndGlyphs" >0.03</text>
<line x1="92.15" y1="701.60" x2="97.65" y2="701.60" stroke="#000" stroke-width="2.2" />
<text x="52.44" y="707.20" font-family="Liberation Sans, sans-serif" font-weight="bold" font-style="normal" font-size="18.5" fill="#000" textLength="36.01" lengthAdjust="spacingAndGlyphs" >0.04</text>
<line x1="92.15" y1="664.40" x2="97.65" y2="664.40" stroke="#000" stroke-width="2.2" />
<text x="52.86" y="670.00" font-family="Liberation Sans, sans-serif" font-weight="bold" font-style="normal" font-size="18.5" fill="#000" textLength="36.01" lengthAdjust="spacingAndGlyphs" >0.05</text>
<line x1="92.15" y1="627.20" x2="97.65" y2="627.20" stroke="#000" stroke-width="2.2" />
<text x="53.01" y="632.80" font-family="Liberation Sans, sans-serif" font-weight="bold" font-style="normal" font-size="18.5" fill="#000" textLength="36.01" lengthAdjust="spacingAndGlyphs" >0.06</text>
<line x1="94.65" y1="831.80" x2="97.65" y2="831.80" stroke="#000" stroke-width="2.0" />
<line x1="94.65" y1="794.60" x2="97.65" y2="794.60" stroke="#000" stroke-width="2.0" />
<line x1="94.65" y1="757.40" x2="97.65" y2="757.40" stroke="#000" stroke-width="2.0" />
<line x1="94.65" y1="720.20" x2="97.65" y2="720.20" stroke="#000" stroke-width="2.0" />
<line x1="94.65" y1="683.00" x2="97.65" y2="683.00" stroke="#000" stroke-width="2.0" />
<line x1="94.65" y1="645.80" x2="97.65" y2="645.80" stroke="#000" stroke-width="2.0" />
<line x1="105.20" y1="869.40" x2="105.20" y2="874.90" stroke="#000" stroke-width="2.2" />
<text x="100.07" y="892.00" font-family="Liberation Sans, sans-serif" font-weight="bold" font-style="normal" font-size="18.5" fill="#000" textLength="10.29" lengthAdjust="spacingAndGlyphs" >0</text>
<line x1="167.26" y1="869.40" x2="167.26" y2="874.90" stroke="#000" stroke-width="2.2" />
<text x="162.17" y="892.00" font-family="Liberation Sans, sans-serif" font-weight="bold" font-style="normal" font-size="18.5" fill="#000" textLength="10.29" lengthAdjust="spacingAndGlyphs" >2</text>
<line x1="229.32" y1="869.40" x2="229.32" y2="874.90" stroke="#000" stroke-width="2.2" />
<text x="224.09" y="892.00" font-family="Liberation Sans, sans-serif" font-weight="bold" font-style="normal" font-size="18.5" fill="#000" textLength="10.29" lengthAdjust="spacingAndGlyphs" >4</text>
<line x1="291.38" y1="869.40" x2="291.38" y2="874.90" stroke="#000" stroke-width="2.2" />
<text x="286.23" y="892.00" font-family="Liberation Sans, sans-serif" font-weight="bold" font-style="normal" font-size="18.5" fill="#000" textLength="10.29" lengthAdjust="spacingAndGlyphs" >6</text>
<line x1="353.44" y1="869.40" x2="353.44" y2="874.90" stroke="#000" stroke-width="2.2" />
<text x="348.29" y="892.00" font-family="Liberation Sans, sans-serif" font-weight="bold" font-style="normal" font-size="18.5" fill="#000" textLength="10.29" lengthAdjust="spacingAndGlyphs" >8</text>
<line x1="415.50" y1="869.40" x2="415.50" y2="874.90" stroke="#000" stroke-width="2.2" />
<text x="405.01" y="892.00" font-family="Liberation Sans, sans-serif" font-weight="bold" font-style="normal" font-size="18.5" fill="#000" textLength="20.58" lengthAdjust="spacingAndGlyphs" >10</text>
<line x1="136.23" y1="869.40" x2="136.23" y2="872.40" stroke="#000" stroke-width="2.0" />
<line x1="198.29" y1="869.40" x2="198.29" y2="872.40" stroke="#000" stroke-width="2.0" />
<line x1="260.35" y1="869.40" x2="260.35" y2="872.40" stroke="#000" stroke-width="2.0" />
<line x1="322.41" y1="869.40" x2="322.41" y2="872.40" stroke="#000" stroke-width="2.0" />
<line x1="384.47" y1="869.40" x2="384.47" y2="872.40" stroke="#000" stroke-width="2.0" />
<text x="197.00" y="921.80" font-family="Liberation Sans, sans-serif" font-weight="bold" font-style="italic" font-size="24" fill="#000" textLength="57.53" lengthAdjust="spacingAndGlyphs" >Time</text>
<text x="264.77" y="918.60" font-family="Liberation Sans, sans-serif" font-weight="normal" font-style="normal" font-size="24" fill="#000" textLength="9.55" lengthAdjust="spacingAndGlyphs" >(</text>
<text x="275.69" y="921.80" font-family="Liberation Sans, sans-serif" font-weight="bold" font-style="italic" font-size="24" fill="#000" textLength="12.85" lengthAdjust="spacingAndGlyphs" >s</text>
<text x="290.10" y="918.60" font-family="Liberation Sans, sans-serif" font-weight="normal" font-style="normal" font-size="24" fill="#000" textLength="8.67" lengthAdjust="spacingAndGlyphs" >)</text>
<text transform="translate(35.40,801.47) rotate(-90)" x="0" y="0" font-family="Liberation Sans, sans-serif" font-weight="bold" font-style="italic" font-size="25" fill="#000" textLength="59.69" lengthAdjust="spacingAndGlyphs" >ΔR/R</text>
<text transform="translate(45.20,742.40) rotate(-90)" x="0" y="0" font-family="Liberation Sans, sans-serif" font-weight="bold" font-style="italic" font-size="20" fill="#000" textLength="12.78" lengthAdjust="spacingAndGlyphs" >0</text>
<text x="449.07" y="632.31" font-family="Liberation Sans, sans-serif" font-weight="normal" font-style="normal" font-size="20.17" fill="#000" textLength="21.07" lengthAdjust="spacingAndGlyphs" stroke="#000" stroke-width="0.55">(f)</text>
<polyline points="549.90,854.50 557.54,649.46 565.18,854.50 572.82,646.81 580.46,854.50 588.10,649.84 595.74,859.05 603.38,649.84 611.02,854.50 618.66,649.84 626.30,854.50 633.94,649.84 641.58,854.50 649.22,649.84 656.86,854.50 664.50,653.63 672.14,854.50 679.78,646.81 687.42,854.50 695.06,649.84 702.70,848.97 710.34,649.84 717.98,851.01 725.62,649.84 733.26,854.50 740.90,657.80 748.54,854.50 756.18,649.84 763.82,850.33 771.46,649.84 779.10,854.50 786.74,642.71 794.38,854.50 802.02,646.05 809.66,854.50 817.30,649.84 824.94,854.50 832.58,649.84 840.22,850.71 847.86,649.84 855.50,854.50" fill="none" stroke="#0000a0" stroke-width="2.6" stroke-linejoin="round" stroke-linecap="round"/>
<rect x="542.2" y="627.6" width="320.9" height="237.79999999999995" fill="none" stroke="#000" stroke-width="2.5"/>
<line x1="536.70" y1="854.50" x2="542.20" y2="854.50" stroke="#000" stroke-width="2.2" />
<text x="497.86" y="860.00" font-family="Liberation Sans, sans-serif" font-weight="bold" font-style="normal" font-size="18" fill="#000" textLength="35.03" lengthAdjust="spacingAndGlyphs" >0.00</text>
<line x1="536.70" y1="816.60" x2="542.20" y2="816.60" stroke="#000" stroke-width="2.2" />
<text x="497.62" y="822.10" font-family="Liberation Sans, sans-serif" font-weight="bold" font-style="normal" font-size="18" fill="#000" textLength="35.03" lengthAdjust="spacingAndGlyphs" >0.05</text>
<line x1="536.70" y1="778.70" x2="542.20" y2="778.70" stroke="#000" stroke-width="2.2" />
<text x="497.86" y="784.20" font-family="Liberation Sans, sans-serif" font-weight="bold" font-style="normal" font-size="18" fill="#000" textLength="35.03" lengthAdjust="spacingAndGlyphs" >0.10</text>
<line x1="536.70" y1="740.80" x2="542.20" y2="740.80" stroke="#000" stroke-width="2.2" />
<text x="497.62" y="746.30" font-family="Liberation Sans, sans-serif" font-weight="bold" font-style="normal" font-size="18" fill="#000" textLength="35.03" lengthAdjust="spacingAndGlyphs" >0.15</text>
<line x1="536.70" y1="702.90" x2="542.20" y2="702.90" stroke="#000" stroke-width="2.2" />
<text x="497.86" y="708.40" font-family="Liberation Sans, sans-serif" font-weight="bold" font-style="normal" font-size="18" fill="#000" textLength="35.03" lengthAdjust="spacingAndGlyphs" >0.20</text>
<line x1="536.70" y1="665.00" x2="542.20" y2="665.00" stroke="#000" stroke-width="2.2" />
<text x="497.62" y="670.50" font-family="Liberation Sans, sans-serif" font-weight="bold" font-style="normal" font-size="18" fill="#000" textLength="35.03" lengthAdjust="spacingAndGlyphs" >0.25</text>
<line x1="536.70" y1="627.10" x2="542.20" y2="627.10" stroke="#000" stroke-width="2.2" />
<text x="497.86" y="632.60" font-family="Liberation Sans, sans-serif" font-weight="bold" font-style="normal" font-size="18" fill="#000" textLength="35.03" lengthAdjust="spacingAndGlyphs" >0.30</text>
<line x1="539.20" y1="835.55" x2="542.20" y2="835.55" stroke="#000" stroke-width="2.0" />
<line x1="539.20" y1="797.65" x2="542.20" y2="797.65" stroke="#000" stroke-width="2.0" />
<line x1="539.20" y1="759.75" x2="542.20" y2="759.75" stroke="#000" stroke-width="2.0" />
<line x1="539.20" y1="721.85" x2="542.20" y2="721.85" stroke="#000" stroke-width="2.0" />
<line x1="539.20" y1="683.95" x2="542.20" y2="683.95" stroke="#000" stroke-width="2.0" />
<line x1="539.20" y1="646.05" x2="542.20" y2="646.05" stroke="#000" stroke-width="2.0" />
<line x1="549.90" y1="865.40" x2="549.90" y2="870.90" stroke="#000" stroke-width="2.2" />
<text x="544.91" y="889.00" font-family="Liberation Sans, sans-serif" font-weight="bold" font-style="normal" font-size="18" fill="#000" textLength="10.01" lengthAdjust="spacingAndGlyphs" >0</text>
<line x1="611.02" y1="865.40" x2="611.02" y2="870.90" stroke="#000" stroke-width="2.2" />
<text x="606.06" y="889.00" font-family="Liberation Sans, sans-serif" font-weight="bold" font-style="normal" font-size="18" fill="#000" textLength="10.01" lengthAdjust="spacingAndGlyphs" >2</text>
<line x1="672.14" y1="865.40" x2="672.14" y2="870.90" stroke="#000" stroke-width="2.2" />
<text x="667.05" y="889.00" font-family="Liberation Sans, sans-serif" font-weight="bold" font-style="normal" font-size="18" fill="#000" textLength="10.01" lengthAdjust="spacingAndGlyphs" >4</text>
<line x1="733.26" y1="865.40" x2="733.26" y2="870.90" stroke="#000" stroke-width="2.2" />
<text x="728.25" y="889.00" font-family="Liberation Sans, sans-serif" font-weight="bold" font-style="normal" font-size="18" fill="#000" textLength="10.01" lengthAdjust="spacingAndGlyphs" >6</text>
<line x1="794.38" y1="865.40" x2="794.38" y2="870.90" stroke="#000" stroke-width="2.2" />
<text x="789.37" y="889.00" font-family="Liberation Sans, sans-serif" font-weight="bold" font-style="normal" font-size="18" fill="#000" textLength="10.01" lengthAdjust="spacingAndGlyphs" >8</text>
<line x1="855.50" y1="865.40" x2="855.50" y2="870.90" stroke="#000" stroke-width="2.2" />
<text x="845.29" y="889.00" font-family="Liberation Sans, sans-serif" font-weight="bold" font-style="normal" font-size="18" fill="#000" textLength="20.02" lengthAdjust="spacingAndGlyphs" >10</text>
<line x1="580.46" y1="865.40" x2="580.46" y2="868.40" stroke="#000" stroke-width="2.0" />
<line x1="641.58" y1="865.40" x2="641.58" y2="868.40" stroke="#000" stroke-width="2.0" />
<line x1="702.70" y1="865.40" x2="702.70" y2="868.40" stroke="#000" stroke-width="2.0" />
<line x1="763.82" y1="865.40" x2="763.82" y2="868.40" stroke="#000" stroke-width="2.0" />
<line x1="824.94" y1="865.40" x2="824.94" y2="868.40" stroke="#000" stroke-width="2.0" />
<text x="640.75" y="918.40" font-family="Liberation Sans, sans-serif" font-weight="bold" font-style="italic" font-size="23.5" fill="#000" textLength="56.07" lengthAdjust="spacingAndGlyphs" >Time</text>
<text x="710.33" y="915.50" font-family="Liberation Sans, sans-serif" font-weight="normal" font-style="normal" font-size="23.5" fill="#000" textLength="6.53" lengthAdjust="spacingAndGlyphs" >(</text>
<text x="717.98" y="918.40" font-family="Liberation Sans, sans-serif" font-weight="bold" font-style="italic" font-size="23.5" fill="#000" textLength="13.61" lengthAdjust="spacingAndGlyphs" >s</text>
<text x="732.62" y="915.50" font-family="Liberation Sans, sans-serif" font-weight="normal" font-style="normal" font-size="23.5" fill="#000" textLength="7.54" lengthAdjust="spacingAndGlyphs" >)</text>
<text transform="translate(479.10,799.88) rotate(-90)" x="0" y="0" font-family="Liberation Sans, sans-serif" font-weight="bold" font-style="italic" font-size="25" fill="#000" textLength="59.10" lengthAdjust="spacingAndGlyphs" >ΔR/R</text>
<text transform="translate(488.60,741.36) rotate(-90)" x="0" y="0" font-family="Liberation Sans, sans-serif" font-weight="bold" font-style="italic" font-size="20" fill="#000" textLength="12.23" lengthAdjust="spacingAndGlyphs" >0</text>
<text x="15.03" y="934.53" font-family="Liberation Sans, sans-serif" font-weight="normal" font-style="normal" font-size="19.64" fill="#000" textLength="26.04" lengthAdjust="spacingAndGlyphs" stroke="#000" stroke-width="0.55">(g)</text>
<rect x="111.6" y="937.4" width="309.5" height="230.89999999999998" fill="none" stroke="#2a2a2a" stroke-width="1.2"/>
<line x1="106.60" y1="1146.90" x2="111.60" y2="1146.90" stroke="#2a2a2a" stroke-width="1.2" />
<text x="73.64" y="1151.80" font-family="Liberation Sans, sans-serif" font-weight="bold" font-style="normal" font-size="17.5" fill="#000" textLength="29.20" lengthAdjust="spacingAndGlyphs" >115</text>
<line x1="106.60" y1="1105.00" x2="111.60" y2="1105.00" stroke="#2a2a2a" stroke-width="1.2" />
<text x="73.87" y="1109.90" font-family="Liberation Sans, sans-serif" font-weight="bold" font-style="normal" font-size="17.5" fill="#000" textLength="29.20" lengthAdjust="spacingAndGlyphs" >120</text>
<line x1="106.60" y1="1063.10" x2="111.60" y2="1063.10" stroke="#2a2a2a" stroke-width="1.2" />
<text x="73.64" y="1068.00" font-family="Liberation Sans, sans-serif" font-weight="bold" font-style="normal" font-size="17.5" fill="#000" textLength="29.20" lengthAdjust="spacingAndGlyphs" >125</text>
<line x1="106.60" y1="1021.20" x2="111.60" y2="1021.20" stroke="#2a2a2a" stroke-width="1.2" />
<text x="73.87" y="1026.10" font-family="Liberation Sans, sans-serif" font-weight="bold" font-style="normal" font-size="17.5" fill="#000" textLength="29.20" lengthAdjust="spacingAndGlyphs" >130</text>
<line x1="106.60" y1="979.30" x2="111.60" y2="979.30" stroke="#2a2a2a" stroke-width="1.2" />
<text x="73.64" y="984.20" font-family="Liberation Sans, sans-serif" font-weight="bold" font-style="normal" font-size="17.5" fill="#000" textLength="29.20" lengthAdjust="spacingAndGlyphs" >135</text>
<line x1="106.60" y1="937.40" x2="111.60" y2="937.40" stroke="#2a2a2a" stroke-width="1.2" />
<text x="73.87" y="942.30" font-family="Liberation Sans, sans-serif" font-weight="bold" font-style="normal" font-size="17.5" fill="#000" textLength="29.20" lengthAdjust="spacingAndGlyphs" >140</text>
<line x1="109.10" y1="1125.95" x2="111.60" y2="1125.95" stroke="#2a2a2a" stroke-width="1.2" />
<line x1="109.10" y1="1084.05" x2="111.60" y2="1084.05" stroke="#2a2a2a" stroke-width="1.2" />
<line x1="109.10" y1="1042.15" x2="111.60" y2="1042.15" stroke="#2a2a2a" stroke-width="1.2" />
<line x1="109.10" y1="1000.25" x2="111.60" y2="1000.25" stroke="#2a2a2a" stroke-width="1.2" />
<line x1="109.10" y1="958.35" x2="111.60" y2="958.35" stroke="#2a2a2a" stroke-width="1.2" />
<line x1="139.20" y1="1168.30" x2="139.20" y2="1173.30" stroke="#2a2a2a" stroke-width="1.2" />
<text x="121.87" y="1190.20" font-family="Liberation Sans, sans-serif" font-weight="bold" font-style="normal" font-size="17.5" fill="#000" textLength="34.06" lengthAdjust="spacingAndGlyphs" >0.04</text>
<line x1="195.70" y1="1168.30" x2="195.70" y2="1173.30" stroke="#2a2a2a" stroke-width="1.2" />
<text x="178.64" y="1190.20" font-family="Liberation Sans, sans-serif" font-weight="bold" font-style="normal" font-size="17.5" fill="#000" textLength="34.06" lengthAdjust="spacingAndGlyphs" >0.06</text>
<line x1="252.20" y1="1168.30" x2="252.20" y2="1173.30" stroke="#2a2a2a" stroke-width="1.2" />
<text x="235.09" y="1190.20" font-family="Liberation Sans, sans-serif" font-weight="bold" font-style="normal" font-size="17.5" fill="#000" textLength="34.06" lengthAdjust="spacingAndGlyphs" >0.08</text>
<line x1="308.70" y1="1168.30" x2="308.70" y2="1173.30" stroke="#2a2a2a" stroke-width="1.2" />
<text x="291.68" y="1190.20" font-family="Liberation Sans, sans-serif" font-weight="bold" font-style="normal" font-size="17.5" fill="#000" textLength="34.06" lengthAdjust="spacingAndGlyphs" >0.10</text>
<line x1="365.20" y1="1168.30" x2="365.20" y2="1173.30" stroke="#2a2a2a" stroke-width="1.2" />
<text x="348.17" y="1190.20" font-family="Liberation Sans, sans-serif" font-weight="bold" font-style="normal" font-size="17.5" fill="#000" textLength="34.06" lengthAdjust="spacingAndGlyphs" >0.12</text>
<line x1="421.70" y1="1168.30" x2="421.70" y2="1173.30" stroke="#2a2a2a" stroke-width="1.2" />
<text x="404.37" y="1190.20" font-family="Liberation Sans, sans-serif" font-weight="bold" font-style="normal" font-size="17.5" fill="#000" textLength="34.06" lengthAdjust="spacingAndGlyphs" >0.14</text>
<line x1="167.45" y1="1168.30" x2="167.45" y2="1170.80" stroke="#2a2a2a" stroke-width="1.2" />
<line x1="223.95" y1="1168.30" x2="223.95" y2="1170.80" stroke="#2a2a2a" stroke-width="1.2" />
<line x1="280.45" y1="1168.30" x2="280.45" y2="1170.80" stroke="#2a2a2a" stroke-width="1.2" />
<line x1="336.95" y1="1168.30" x2="336.95" y2="1170.80" stroke="#2a2a2a" stroke-width="1.2" />
<line x1="393.45" y1="1168.30" x2="393.45" y2="1170.80" stroke="#2a2a2a" stroke-width="1.2" />
<text x="135.68" y="1216.20" font-family="Liberation Sans, sans-serif" font-weight="bold" font-style="normal" font-size="23.3" fill="#000" textLength="260.55" lengthAdjust="spacingAndGlyphs" >Concentration (mg/mL)</text>
<text transform="translate(58.00,1200.47) rotate(-90)" x="0" y="0" font-family="Liberation Sans, sans-serif" font-weight="bold" font-style="normal" font-size="24" fill="#000" textLength="260.02" lengthAdjust="spacingAndGlyphs" >Water contact angle (°)</text>
<line x1="144.60" y1="1128.77" x2="218.55" y2="1087.09" stroke="#ff0000" stroke-width="2.6" />
<line x1="230.05" y1="1082.96" x2="302.60" y2="1070.05" stroke="#ff0000" stroke-width="2.6" />
<line x1="312.92" y1="1064.42" x2="389.23" y2="982.17" stroke="#ff0000" stroke-width="2.6" />
<line x1="139.20" y1="1124.90" x2="139.20" y2="1139.00" stroke="#0a8080" stroke-width="2.0" />
<line x1="136.60" y1="1125.90" x2="141.80" y2="1125.90" stroke="#0a8080" stroke-width="2.3" stroke-linecap="round"/>
<line x1="136.60" y1="1138.00" x2="141.80" y2="1138.00" stroke="#0a8080" stroke-width="2.3" stroke-linecap="round"/>
<circle cx="139.20" cy="1131.82" r="4.7" fill="#0a8080"/>
<circle cx="137.90" cy="1130.72" r="1.6" fill="#d8eeee"/>
<line x1="223.95" y1="1078.30" x2="223.95" y2="1090.60" stroke="#0a8080" stroke-width="2.0" />
<line x1="221.35" y1="1079.30" x2="226.55" y2="1079.30" stroke="#0a8080" stroke-width="2.3" stroke-linecap="round"/>
<line x1="221.35" y1="1089.60" x2="226.55" y2="1089.60" stroke="#0a8080" stroke-width="2.3" stroke-linecap="round"/>
<circle cx="223.95" cy="1084.05" r="4.7" fill="#0a8080"/>
<circle cx="222.65" cy="1082.95" r="1.6" fill="#d8eeee"/>
<line x1="308.70" y1="1061.60" x2="308.70" y2="1076.20" stroke="#0a8080" stroke-width="2.0" />
<line x1="306.10" y1="1062.60" x2="311.30" y2="1062.60" stroke="#0a8080" stroke-width="2.3" stroke-linecap="round"/>
<line x1="306.10" y1="1075.20" x2="311.30" y2="1075.20" stroke="#0a8080" stroke-width="2.3" stroke-linecap="round"/>
<circle cx="308.70" cy="1068.97" r="4.7" fill="#0a8080"/>
<circle cx="307.40" cy="1067.87" r="1.6" fill="#d8eeee"/>
<line x1="393.45" y1="969.70" x2="393.45" y2="985.10" stroke="#0a8080" stroke-width="2.0" />
<line x1="390.85" y1="970.70" x2="396.05" y2="970.70" stroke="#0a8080" stroke-width="2.3" stroke-linecap="round"/>
<line x1="390.85" y1="984.10" x2="396.05" y2="984.10" stroke="#0a8080" stroke-width="2.3" stroke-linecap="round"/>
<circle cx="393.45" cy="977.62" r="4.7" fill="#0a8080"/>
<circle cx="392.15" cy="976.52" r="1.6" fill="#d8eeee"/>
<clipPath id="dc1"><rect x="126.40" y="1146.80" width="26.40" height="16.90"/></clipPath>
<circle cx="139.60" cy="1159.00" r="11.20" fill="#161616" clip-path="url(#dc1)"/>
<line x1="127.40" y1="1163.40" x2="151.80" y2="1163.40" stroke="#888" stroke-width="0.8"/>
<clipPath id="dc2"><rect x="211.30" y="1052.50" width="24.80" height="16.80"/></clipPath>
<circle cx="223.70" cy="1063.90" r="10.40" fill="#161616" clip-path="url(#dc2)"/>
<line x1="212.30" y1="1069.00" x2="235.10" y2="1069.00" stroke="#888" stroke-width="0.8"/>
<clipPath id="dc3"><rect x="297.20" y="1084.30" width="24.00" height="17.30"/></clipPath>
<circle cx="309.20" cy="1095.30" r="10.00" fill="#161616" clip-path="url(#dc3)"/>
<line x1="298.20" y1="1101.30" x2="320.20" y2="1101.30" stroke="#888" stroke-width="0.8"/>
<clipPath id="dc4"><rect x="381.50" y="942.40" width="23.40" height="18.20"/></clipPath>
<circle cx="393.20" cy="953.10" r="9.70" fill="#161616" clip-path="url(#dc4)"/>
<line x1="382.50" y1="960.30" x2="403.90" y2="960.30" stroke="#888" stroke-width="0.8"/>
<circle cx="138.7" cy="1158.5" r="1.5" fill="#fff"/>
<circle cx="223.0" cy="1063.6" r="1.5" fill="#fff"/>
<circle cx="308.7" cy="1095.5" r="1.5" fill="#fff"/>
<circle cx="392.8" cy="953.3" r="1.5" fill="#fff"/>
<text x="438.15" y="936.17" font-family="Liberation Sans, sans-serif" font-weight="normal" font-style="normal" font-size="20.39" fill="#000" textLength="25.60" lengthAdjust="spacingAndGlyphs" stroke="#000" stroke-width="0.55">(h)</text>
<rect x="602.2" y="940.0" width="237.5" height="60.8" fill="#c4c4c2"/>
<defs><filter id="nz" x="0" y="0" width="1" height="1"><feTurbulence type="fractalNoise" baseFrequency="0.35" numOctaves="2" seed="3" result="t"/><feColorMatrix in="t" type="matrix" values="0 0 0 0 0.5  0 0 0 0 0.5  0 0 0 0 0.5  0 0 0 0.9 -0.45" result="n"/><feComposite in="n" in2="SourceGraphic" operator="in" result="m"/><feBlend in="SourceGraphic" in2="m" mode="overlay"/></filter></defs>
<rect x="603.2" y="942.2" width="57.1" height="57.8" rx="2.5" fill="#7e8079" stroke="#3c3d3a" stroke-width="1.0" filter="url(#nz)"/>
<rect x="661.4" y="942.2" width="57.1" height="57.8" rx="2.5" fill="#6e706a" stroke="#3c3d3a" stroke-width="1.0" filter="url(#nz)"/>
<rect x="720.6" y="942.2" width="58.0" height="57.8" rx="2.5" fill="#666861" stroke="#3c3d3a" stroke-width="1.0" filter="url(#nz)"/>
<rect x="780.2" y="942.2" width="58.8" height="57.8" rx="2.5" fill="#6c6e66" stroke="#3c3d3a" stroke-width="1.0" filter="url(#nz)"/>
<path d="M657,957 C654,962 652,966 646,968 C641,970 636,972 628,976" fill="none" stroke="#9c9e98" stroke-width="0.8"/>
<path d="M604,992 C610,988 616,990 622,997 M640,999 C648,994 654,993 660,996" fill="none" stroke="#9a9c96" stroke-width="0.8"/>
<path d="M716,996 C706,994 696,996 690,999" fill="none" stroke="#8e908a" stroke-width="0.7"/>
<path d="M766,964 L772,961 M750,986 L757,983" fill="none" stroke="#80827c" stroke-width="0.6"/>
<text x="603.34" y="1026.60" font-family="Liberation Sans, sans-serif" font-weight="bold" font-style="normal" font-size="25" fill="#000" textLength="49.65" lengthAdjust="spacingAndGlyphs" >0.04</text>
<text x="668.42" y="1026.60" font-family="Liberation Sans, sans-serif" font-weight="bold" font-style="normal" font-size="25" fill="#000" textLength="50.67" lengthAdjust="spacingAndGlyphs" >0.07</text>
<text x="735.38" y="1026.60" font-family="Liberation Sans, sans-serif" font-weight="bold" font-style="normal" font-size="25" fill="#000" textLength="34.05" lengthAdjust="spacingAndGlyphs" >0.1</text>
<text x="785.81" y="1026.60" font-family="Liberation Sans, sans-serif" font-weight="bold" font-style="normal" font-size="25" fill="#000" textLength="51.40" lengthAdjust="spacingAndGlyphs" >0.13</text>
<rect x="528.4" y="930.9" width="320.4" height="236.5000000000001" fill="none" stroke="#111" stroke-width="1.4"/>
<text x="497.70" y="1172.40" font-family="Liberation Sans, sans-serif" font-weight="bold" font-style="normal" font-size="17.5" fill="#000" textLength="19.47" lengthAdjust="spacingAndGlyphs" >20</text>
<line x1="528.40" y1="1128.40" x2="535.40" y2="1128.40" stroke="#111" stroke-width="1.4" />
<text x="497.70" y="1132.90" font-family="Liberation Sans, sans-serif" font-weight="bold" font-style="normal" font-size="17.5" fill="#000" textLength="19.47" lengthAdjust="spacingAndGlyphs" >30</text>
<line x1="528.40" y1="1088.90" x2="535.40" y2="1088.90" stroke="#111" stroke-width="1.4" />
<text x="497.70" y="1093.40" font-family="Liberation Sans, sans-serif" font-weight="bold" font-style="normal" font-size="17.5" fill="#000" textLength="19.47" lengthAdjust="spacingAndGlyphs" >40</text>
<line x1="528.40" y1="1049.40" x2="535.40" y2="1049.40" stroke="#111" stroke-width="1.4" />
<text x="497.70" y="1053.90" font-family="Liberation Sans, sans-serif" font-weight="bold" font-style="normal" font-size="17.5" fill="#000" textLength="19.47" lengthAdjust="spacingAndGlyphs" >50</text>
<line x1="528.40" y1="1009.90" x2="535.40" y2="1009.90" stroke="#111" stroke-width="1.4" />
<text x="497.70" y="1014.40" font-family="Liberation Sans, sans-serif" font-weight="bold" font-style="normal" font-size="17.5" fill="#000" textLength="19.47" lengthAdjust="spacingAndGlyphs" >60</text>
<line x1="528.40" y1="970.40" x2="535.40" y2="970.40" stroke="#111" stroke-width="1.4" />
<text x="497.70" y="974.90" font-family="Liberation Sans, sans-serif" font-weight="bold" font-style="normal" font-size="17.5" fill="#000" textLength="19.47" lengthAdjust="spacingAndGlyphs" >70</text>
<text x="497.70" y="935.40" font-family="Liberation Sans, sans-serif" font-weight="bold" font-style="normal" font-size="17.5" fill="#000" textLength="19.47" lengthAdjust="spacingAndGlyphs" >80</text>
<line x1="522.90" y1="1148.15" x2="528.40" y2="1148.15" stroke="#111" stroke-width="1.4" />
<line x1="522.90" y1="1108.65" x2="528.40" y2="1108.65" stroke="#111" stroke-width="1.4" />
<line x1="522.90" y1="1069.15" x2="528.40" y2="1069.15" stroke="#111" stroke-width="1.4" />
<line x1="522.90" y1="1029.65" x2="528.40" y2="1029.65" stroke="#111" stroke-width="1.4" />
<line x1="522.90" y1="990.15" x2="528.40" y2="990.15" stroke="#111" stroke-width="1.4" />
<line x1="522.90" y1="950.65" x2="528.40" y2="950.65" stroke="#111" stroke-width="1.4" />
<line x1="557.20" y1="1167.40" x2="557.20" y2="1160.40" stroke="#111" stroke-width="1.4" />
<line x1="615.80" y1="1167.40" x2="615.80" y2="1160.40" stroke="#111" stroke-width="1.4" />
<line x1="674.40" y1="1167.40" x2="674.40" y2="1160.40" stroke="#111" stroke-width="1.4" />
<line x1="733.00" y1="1167.40" x2="733.00" y2="1160.40" stroke="#111" stroke-width="1.4" />
<line x1="791.60" y1="1167.40" x2="791.60" y2="1160.40" stroke="#111" stroke-width="1.4" />
<line x1="527.90" y1="1167.40" x2="527.90" y2="1172.90" stroke="#111" stroke-width="1.4" />
<line x1="586.50" y1="1167.40" x2="586.50" y2="1172.90" stroke="#111" stroke-width="1.4" />
<line x1="645.10" y1="1167.40" x2="645.10" y2="1172.90" stroke="#111" stroke-width="1.4" />
<line x1="703.70" y1="1167.40" x2="703.70" y2="1172.90" stroke="#111" stroke-width="1.4" />
<line x1="762.30" y1="1167.40" x2="762.30" y2="1172.90" stroke="#111" stroke-width="1.4" />
<line x1="820.90" y1="1167.40" x2="820.90" y2="1172.90" stroke="#111" stroke-width="1.4" />
<text x="539.81" y="1191.70" font-family="Liberation Sans, sans-serif" font-weight="bold" font-style="normal" font-size="16.2" fill="#000" letter-spacing="0.899" >0.04</text>
<text x="598.41" y="1191.70" font-family="Liberation Sans, sans-serif" font-weight="bold" font-style="normal" font-size="16.2" fill="#000" letter-spacing="1.065" >0.06</text>
<text x="657.01" y="1191.70" font-family="Liberation Sans, sans-serif" font-weight="bold" font-style="normal" font-size="16.2" fill="#000" letter-spacing="1.036" >0.08</text>
<text x="715.61" y="1191.70" font-family="Liberation Sans, sans-serif" font-weight="bold" font-style="normal" font-size="16.2" fill="#000" letter-spacing="1.092" >0.10</text>
<text x="774.21" y="1191.70" font-family="Liberation Sans, sans-serif" font-weight="bold" font-style="normal" font-size="16.2" fill="#000" letter-spacing="1.086" >0.12</text>
<text x="832.81" y="1191.70" font-family="Liberation Sans, sans-serif" font-weight="bold" font-style="normal" font-size="16.2" fill="#000" letter-spacing="0.899" >0.14</text>
<text x="552.32" y="1216.90" font-family="Liberation Sans, sans-serif" font-weight="bold" font-style="normal" font-size="22.7" fill="#000" letter-spacing="1.019" >Concentration (mg/mL)</text>
<text transform="translate(483.40,1199.12) rotate(-90)" x="0" y="0" font-family="Liberation Sans, sans-serif" font-weight="bold" font-style="normal" font-size="23.4" fill="#000" textLength="273.24" lengthAdjust="spacingAndGlyphs" >Sheet resistance (kΩ/sq)</text>
<polyline points="557.20,958.55 645.10,1116.55 733.00,1128.40 820.90,1140.25" fill="none" stroke="#ff0000" stroke-width="2.6" stroke-linejoin="round" />
<path d="M557.20,953.55 L562.20,961.75 L552.20,961.75 Z" fill="#000"/>
<path d="M645.10,1111.55 L650.10,1119.75 L640.10,1119.75 Z" fill="#000"/>
<path d="M733.00,1123.40 L738.00,1131.60 L728.00,1131.60 Z" fill="#000"/>
<path d="M820.90,1135.25 L825.90,1143.45 L815.90,1143.45 Z" fill="#000"/>
</svg></body></html>
